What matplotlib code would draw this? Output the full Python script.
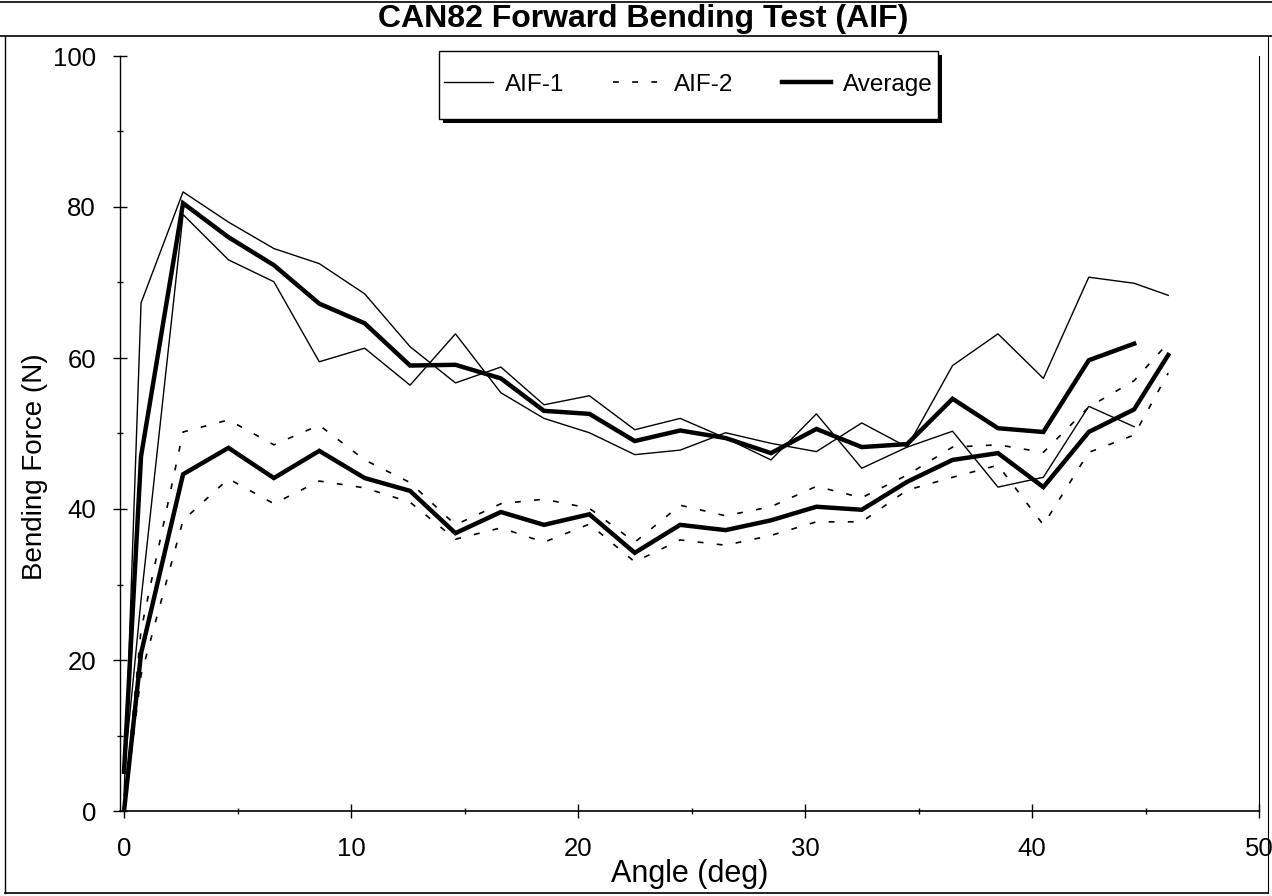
import numpy as np
import matplotlib
matplotlib.use("Agg")
import matplotlib.pyplot as plt
from matplotlib.lines import Line2D
from matplotlib.patches import Rectangle
from matplotlib.ticker import MultipleLocator

plt.rcParams['font.family'] = ['Liberation Sans', 'DejaVu Sans']

# ---------------- data ----------------
angle = [0, 0.75, 2.6, 4.6, 6.6, 8.6, 10.6, 12.6, 14.6, 16.6, 18.5, 20.5, 22.5,
         24.5, 26.5, 28.5, 30.5, 32.5, 34.5, 36.5, 38.5, 40.5, 42.5, 44.5, 46.0]

# upper group: AIF-1 (two thin solid curves) and their average
aif1_a = [2, 67.3, 82, 78, 74.5, 72.5, 68.5, 61.5, 56.7, 58.8, 53.8, 55, 50.5,
          52, 49.4, 46.5, 52.6, 45.4, 48.2, 59.0, 63.2, 57.3, 70.7, 69.9, 68.3]
aif1_b = [5, 28, 79, 73, 70.1, 59.5, 61.3, 56.4, 63.2, 55.4, 52, 50.1, 47.2,
          47.8, 50.1, 48.7, 47.6, 51.4, 48.2, 50.3, 42.9, 44.2, 53.6, 50.9, np.nan]
avg_upper = [5.2, 47, 80.5, 76, 72.3, 67.2, 64.6, 59, 59.1, 57.3, 53, 52.6, 49,
             50.4, 49.4, 47.4, 50.6, 48.2, 48.6, 54.6, 50.7, 50.2, 59.7, 61.9, np.nan]

# lower group: AIF-2 (two dashed curves) and their average
aif2_a = [0, 24, 50.2, 51.8, 48.5, 51.1, 46.5, 43.5, 37.9, 40.7, 41.3, 40.1, 35.6,
          40.5, 39.1, 40.3, 43.0, 41.5, 44.5, 48.2, 48.5, 47.5, 53.5, 57, 62]
aif2_b = [0, 18, 38.5, 44, 40.7, 43.7, 42.8, 40.9, 36, 37.5, 35.6, 38, 33,
          35.9, 35.2, 36.5, 38.3, 38.3, 42.5, 44.2, 45.8, 37.9, 47.5, 49.8, 58]
avg_lower = [0, 20.9, 44.6, 48.1, 44.1, 47.7, 44.1, 42.4, 36.8, 39.6, 37.9, 39.3, 34.2,
             37.9, 37.2, 38.5, 40.3, 39.9, 43.6, 46.5, 47.4, 42.9, 50.2, 53.2, 60.4]

legend_labels = ["AIF-1", "AIF-2", "Average"]

# ---------------- figure ----------------
W, H = 1272, 896
fig = plt.figure(figsize=(W / 100, H / 100), dpi=100)
fig.patch.set_facecolor('white')

x0_px, x1_px = 119.5, 1259
y0_px, y1_px = 811, 56
ax = fig.add_axes([x0_px / W, 1 - y0_px / H, (x1_px - x0_px) / W, (y0_px - y1_px) / H])

thin_lw = 1.0
dash_style = dict(lw=1.2, dashes=(3.5, 8))
thick_lw = 3.2

ax.plot(angle, aif1_a, color='black', lw=thin_lw)
ax.plot(angle, aif1_b, color='black', lw=thin_lw)
ax.plot(angle, avg_upper, color='black', lw=thick_lw, solid_joinstyle='miter')
ax.plot(angle, aif2_a, color='black', **dash_style)
ax.plot(angle, aif2_b, color='black', **dash_style)
ax.plot(angle, avg_lower, color='black', lw=thick_lw, solid_joinstyle='miter')

ax.set_xlim(-0.2, 50)
ax.set_ylim(0, 100)
ax.xaxis.set_major_locator(MultipleLocator(10))
ax.xaxis.set_minor_locator(MultipleLocator(5))
ax.yaxis.set_major_locator(MultipleLocator(20))
ax.yaxis.set_minor_locator(MultipleLocator(10))
ax.tick_params(which='major', direction='inout', length=10, width=1.0, labelsize=18.5)
ax.tick_params(axis='x', which='major', pad=14)
ax.tick_params(axis='y', which='major', pad=12)
ax.tick_params(which='minor', direction='inout', length=5, width=1.0)

ax.spines['top'].set_visible(False)
ax.spines['right'].set_linewidth(0.8)
ax.spines['left'].set_linewidth(1.0)
ax.spines['bottom'].set_linewidth(1.2)

ax.set_xlabel("Angle (deg)", fontsize=22, labelpad=-2)
ax.set_ylabel("Bending Force (N)", fontsize=20)
ax.yaxis.set_label_coords((48 - x0_px) / (x1_px - x0_px), (y0_px - 467) / (y0_px - y1_px))

# legend: entries drawn by the library, box with hard shadow drawn around them
handles = [Line2D([], [], color='black', lw=thin_lw),
           Line2D([], [], color='black', **dash_style),
           Line2D([], [], color='black', lw=thick_lw)]
bx0, bx1, by0, by1 = 439, 938, 51, 119
leg = fig.legend(handles, legend_labels, ncol=3, loc='center',
                 bbox_to_anchor=((bx0 + bx1) / 2 / W, 1 - (by0 + by1) / 2 / H),
                 frameon=False, fontsize=17.5, handlelength=2.0, columnspacing=2.0,
                 handletextpad=0.5, borderpad=0.0, borderaxespad=0.0)
leg.set_zorder(6)

def frect(x, y, w, h, **kw):
    fig.add_artist(Rectangle((x / W, 1 - (y + h) / H), w / W, h / H,
                             transform=fig.transFigure, **kw))

frect(bx0 + 4, by0 + 4, bx1 - bx0, by1 - by0, facecolor='black', edgecolor='none', zorder=4)
frect(bx0, by0, bx1 - bx0, by1 - by0, facecolor='white', edgecolor='black', lw=1.0, zorder=5)

fig.text(643 / W, 1 - 19 / H, "CAN82 Forward Bending Test (AIF)", fontsize=23,
         fontweight='bold', ha='center', va='center')

# page frame lines
def fline(xs, ys, lw=1.0):
    fig.add_artist(Line2D([x / W for x in xs], [1 - y / H for y in ys],
                          color='black', lw=lw, transform=fig.transFigure))

fline([0, W], [2, 2], 1.2)
fline([0, W], [36, 36], 1.2)
fline([5, 5], [36, 893], 1.0)
fline([5, 1268], [893, 893], 1.2)
fline([1268, 1268], [36, 893], 0.8)

fig.savefig("out.png", dpi=100, facecolor='white')
